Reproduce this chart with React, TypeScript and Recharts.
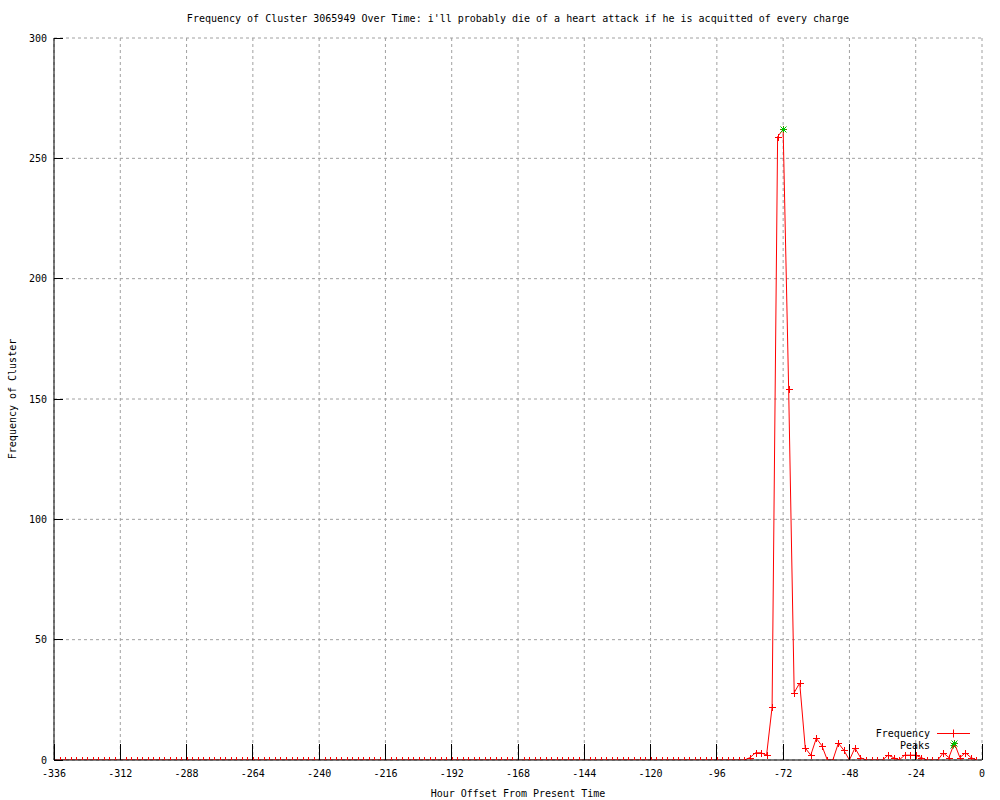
import React from 'react';
import { LineChart, Line, XAxis, YAxis, CartesianGrid, Customized } from 'recharts';

// Hour offsets (every 2 hours from -336 to -2)
const hours: number[] = [
  -336, -334, -332, -330, -328, -326, -324, -322, -320, -318, -316, -314, -312, -310, -308, -306, -304, -302, -300, -298,
  -296, -294, -292, -290, -288, -286, -284, -282, -280, -278, -276, -274, -272, -270, -268, -266, -264, -262, -260, -258,
  -256, -254, -252, -250, -248, -246, -244, -242, -240, -238, -236, -234, -232, -230, -228, -226, -224, -222, -220, -218,
  -216, -214, -212, -210, -208, -206, -204, -202, -200, -198, -196, -194, -192, -190, -188, -186, -184, -182, -180, -178,
  -176, -174, -172, -170, -168, -166, -164, -162, -160, -158, -156, -154, -152, -150, -148, -146, -144, -142, -140, -138,
  -136, -134, -132, -130, -128, -126, -124, -122, -120, -118, -116, -114, -112, -110, -108, -106, -104, -102, -100, -98,
  -96, -94, -92, -90, -88, -86, -84, -82, -80, -78, -76, -74, -72, -70, -68, -66, -64, -62, -60, -58,
  -56, -54, -52, -50, -48, -46, -44, -42, -40, -38, -36, -34, -32, -30, -28, -26, -24, -22, -20, -18,
  -16, -14, -12, -10, -8, -6, -4, -2,
];

const frequency: number[] = [
  0, 0, 0, 0, 0, 0, 0, 0, 0, 0, 0, 0, 0, 0, 0, 0, 0, 0, 0, 0,
  0, 0, 0, 0, 0, 0, 0, 0, 0, 0, 0, 0, 0, 0, 0, 0, 0, 0, 0, 0,
  0, 0, 0, 0, 0, 0, 0, 0, 0, 0, 0, 0, 0, 0, 0, 0, 0, 0, 0, 0,
  0, 0, 0, 0, 0, 0, 0, 0, 0, 0, 0, 0, 0, 0, 0, 0, 0, 0, 0, 0,
  0, 0, 0, 0, 0, 0, 0, 0, 0, 0, 0, 0, 0, 0, 0, 0, 0, 0, 0, 0,
  0, 0, 0, 0, 0, 0, 0, 0, 0, 0, 0, 0, 0, 0, 0, 0, 0, 0, 0, 0,
  0, 0, 0, 0, 0, 0, 1, 3, 3, 2, 22, 259, 262, 154, 28, 32, 5, 2, 9, 6,
  0, 0, 7, 4, 0, 5, 1, 0, 0, 0, 0, 2, 1, 0, 2, 2, 2, 1, 0, 0,
  0, 3, 1, 7, 1, 3, 1, 0,
];

const peakHours: number[] = [-72, -10];
const peakValues: number[] = [262, 7];

const xTicks: number[] = [-336, -312, -288, -264, -240, -216, -192, -168, -144, -120, -96, -72, -48, -24, 0];
const yTicks: number[] = [0, 50, 100, 150, 200, 250, 300];

const TITLE = "Frequency of Cluster 3065949 Over Time: i'll probably die of a heart attack if he is acquitted of every charge";
const X_LABEL = 'Hour Offset From Present Time';
const Y_LABEL = 'Frequency of Cluster';
const SERIES_NAMES: string[] = ['Frequency', 'Peaks'];

const data = hours.map((h, i) => {
  const pi = peakHours.indexOf(h);
  return { hour: h, freq: frequency[i], peak: pi >= 0 ? peakValues[pi] : null };
});

const FONT = '"DejaVu Sans Mono", "Liberation Mono", monospace';
const RED = '#ff0000';
const GREEN = '#00c000';
const X_TIC = 16;
const Y_TIC = 9;

const plusPath = (cx: number, cy: number, r: number) =>
  `M${cx - r},${cy}H${cx + r}M${cx},${cy - r}V${cy + r}`;
const starPath = (cx: number, cy: number, r: number) =>
  `M${cx - r},${cy}H${cx + r}M${cx},${cy - r}V${cy + r}M${cx - r},${cy - r}L${cx + r},${cy + r}M${cx - r},${cy + r}L${cx + r},${cy - r}`;

const PlusDot = (p: any) => {
  const { cx, cy, index } = p;
  if (cx == null || cy == null || isNaN(cy)) return <g key={`pd-${index}`} />;
  return <path key={`pd-${index}`} d={plusPath(Math.round(cx) + 0.5, Math.round(cy) + 0.5, 3.5)} stroke={RED} strokeWidth={1} fill="none" />;
};

const StarDot = (p: any) => {
  const { cx, cy, index, value } = p;
  if (cx == null || cy == null || value == null || isNaN(cy)) return <g key={`sd-${index}`} />;
  return <path key={`sd-${index}`} d={starPath(Math.round(cx) + 0.5, Math.round(cy) + 0.5, 3)} stroke={GREEN} strokeWidth={1} fill="none" />;
};

const BottomTick = (p: any) => {
  const { x, y, payload } = p;
  return (
    <g>
      <line x1={x} y1={y} x2={x} y2={y - X_TIC} stroke="#000" strokeWidth={1} shapeRendering="crispEdges" />
      <text x={x} y={y + 17} textAnchor="middle" fontFamily={FONT} fontSize={10} fill="#000">{payload.value}</text>
    </g>
  );
};
const TopTick = (p: any) => {
  const { x, y } = p;
  return <line x1={x} y1={y} x2={x} y2={y + X_TIC} stroke="#000" strokeWidth={1} shapeRendering="crispEdges" />;
};
const LeftTick = (p: any) => {
  const { x, y, payload } = p;
  return (
    <g>
      <line x1={x} y1={y} x2={x + Y_TIC} y2={y} stroke="#000" strokeWidth={1} shapeRendering="crispEdges" />
      <text x={x - 7} y={y + 3.5} textAnchor="end" fontFamily={FONT} fontSize={10} fill="#000">{payload.value}</text>
    </g>
  );
};
const RightTick = (p: any) => {
  const { x, y } = p;
  return <line x1={x} y1={y} x2={x - Y_TIC} y2={y} stroke="#000" strokeWidth={1} shapeRendering="crispEdges" />;
};

const Texts = () => (
  <g>
    <text x={518} y={22} textAnchor="middle" fontFamily={FONT} fontSize={10} fill="#000">{TITLE}</text>
    <text x={518} y={797} textAnchor="middle" fontFamily={FONT} fontSize={10} fill="#000">{X_LABEL}</text>
    <text x={16} y={399} textAnchor="middle" fontFamily={FONT} fontSize={10} fill="#000" transform="rotate(-90 16 399)">{Y_LABEL}</text>
    <g>
      <text x={930} y={737} textAnchor="end" fontFamily={FONT} fontSize={10} fill="#000">{SERIES_NAMES[0]}</text>
      <rect x={937} y={733} width={33} height={1} fill={RED} stroke="none" />
      <rect x={953} y={729.5} width={1} height={8} fill={RED} stroke="none" />
      <text x={930} y={749} textAnchor="end" fontFamily={FONT} fontSize={10} fill="#000">{SERIES_NAMES[1]}</text>
      <path d={starPath(953.5, 745.5, 3)} stroke={GREEN} strokeWidth={1} fill="none" />
    </g>
  </g>
);

export default function App() {
  return (
    <div style={{ position: 'absolute', left: 0, top: 0, width: 1000, height: 800, background: '#fff' }}>
      <LineChart width={1000} height={800} data={data} margin={{ top: 38, right: 18, bottom: 0, left: 0 }}>
        <CartesianGrid stroke="#a0a0a0" strokeDasharray="3 3" xAxisId="bottom" yAxisId="left" />
        <XAxis xAxisId="bottom" dataKey="hour" type="number" domain={[-336, 0]} ticks={xTicks} interval={0}
          height={40} tickSize={0} tickMargin={0} tickLine={false} tick={<BottomTick />}
          axisLine={{ stroke: '#000' }} allowDataOverflow />
        <XAxis xAxisId="top" orientation="top" dataKey="hour" type="number" domain={[-336, 0]} ticks={xTicks} interval={0}
          height={0} tickSize={0} tickMargin={0} tickLine={false} tick={<TopTick />}
          axisLine={{ stroke: '#000' }} allowDataOverflow />
        <YAxis yAxisId="left" type="number" domain={[0, 300]} ticks={yTicks} interval={0}
          width={54} tickSize={0} tickMargin={0} tickLine={false} tick={<LeftTick />}
          axisLine={{ stroke: '#000' }} allowDataOverflow />
        <YAxis yAxisId="right" orientation="right" type="number" domain={[0, 300]} ticks={yTicks} interval={0}
          width={0} tickSize={0} tickMargin={0} tickLine={false} tick={<RightTick />}
          axisLine={{ stroke: '#000' }} allowDataOverflow />
        <Line xAxisId="top" yAxisId="right" dataKey="freq" stroke="none" dot={false} activeDot={false}
          legendType="none" isAnimationActive={false} />
        <Line xAxisId="bottom" yAxisId="left" type="linear" dataKey="freq" name={SERIES_NAMES[0]} stroke={RED} strokeWidth={1}
          dot={<PlusDot />} activeDot={false} isAnimationActive={false} />
        <Line xAxisId="bottom" yAxisId="left" type="linear" dataKey="peak" name={SERIES_NAMES[1]} stroke="none" connectNulls={false}
          dot={<StarDot />} activeDot={false} isAnimationActive={false} />
        <Customized component={<Texts />} />
      </LineChart>
    </div>
  );
}
